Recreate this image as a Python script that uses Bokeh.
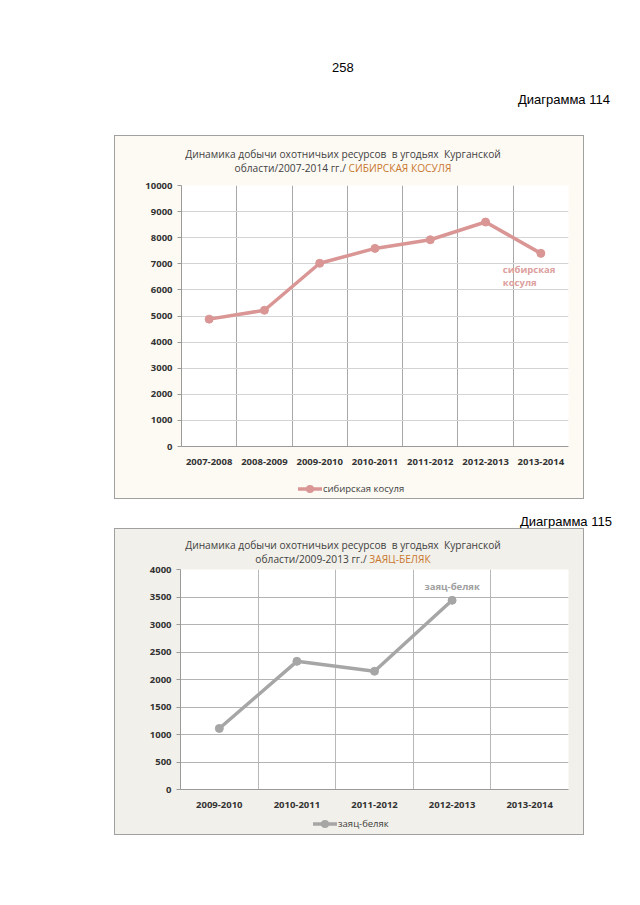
from bokeh.plotting import figure
from bokeh.models import Range1d, FixedTicker, Div, Spacer
from bokeh.layouts import column, row
from bokeh.core.properties import value
from bokeh.embed import file_html
from bokeh.resources import INLINE

# ---- data -------------------------------------------------------------
roe_seasons = ["2007-2008", "2008-2009", "2009-2010", "2010-2011",
               "2011-2012", "2012-2013", "2013-2014"]
roe_harvest = [4880, 5220, 7020, 7590, 7920, 8600, 7400]
roe_ticks = list(range(0, 10001, 1000))

hare_seasons = ["2009-2010", "2010-2011", "2011-2012", "2012-2013", "2013-2014"]
hare_harvest = [1110, 2330, 2150, 3440]
hare_ticks = list(range(0, 4001, 500))

FONT = "Open Sans"
TITLE_DARK = "#3F3F3F"
TITLE_ORANGE = "#C8782E"
CHART_W = 468


def style_chart(p, seasons, ticks, hgrid, vgrid):
    n = len(seasons)
    centers = [i + 0.5 for i in range(n)]
    p.xaxis.ticker = FixedTicker(ticks=centers)
    p.xaxis.major_label_overrides = {c: s for c, s in zip(centers, seasons)}
    p.xaxis.major_tick_line_color = None
    p.xaxis.minor_tick_line_color = None
    p.xaxis.axis_line_color = "#9A9A9A"
    p.xaxis.major_label_standoff = 6
    p.yaxis.ticker = FixedTicker(ticks=ticks)
    p.yaxis.major_tick_out = 4
    p.yaxis.major_tick_in = 0
    p.yaxis.minor_tick_line_color = None
    p.yaxis.axis_line_color = "#9A9A9A"
    p.yaxis.major_tick_line_color = "#9A9A9A"
    p.yaxis.major_label_standoff = 5
    for ax in (p.xaxis, p.yaxis):
        ax.major_label_text_font = FONT
        ax.major_label_text_font_size = "9.5px"
        ax.major_label_text_font_style = "bold"
        ax.major_label_text_color = "#333333"
    p.xgrid.ticker = FixedTicker(ticks=list(range(1, n + 1)))
    p.xgrid.grid_line_color = vgrid
    p.ygrid.ticker = FixedTicker(ticks=ticks)
    p.ygrid.grid_line_color = hgrid
    p.outline_line_color = None
    return centers


def title_div(line1, line2a, line2b, height, top1, top2, bg):
    line = ("position:absolute;left:0;width:456px;text-align:center;white-space:pre;"
            f"font-family:'{FONT}',sans-serif;font-size:10.2px;line-height:14px;color:{TITLE_DARK};")
    html = (f'<div style="position:relative;width:{CHART_W}px;height:{height}px;">'
            f'<div style="{line}top:{top1}px">{line1}</div>'
            f'<div style="{line}top:{top2}px">{line2a} '
            f'<span style="color:{TITLE_ORANGE}">{line2b}</span></div></div>')
    return Div(width=CHART_W, height=height, margin=0, text=html,
               styles={"background-color": bg})


def legend_div(label, color, height, left, center_y, bg):
    icon = (f'<svg width="24" height="12" style="display:block">'
            f'<line x1="0" y1="6" x2="24" y2="6" stroke="{color}" stroke-width="3.5"/>'
            f'<circle cx="12" cy="6" r="4" fill="{color}"/></svg>')
    html = (f'<div style="position:relative;width:{CHART_W}px;height:{height}px;">'
            f'<div style="position:absolute;left:{left}px;top:{center_y - 7}px;height:14px;'
            f'display:flex;align-items:center;white-space:nowrap;'
            f"font-family:'{FONT}',sans-serif;font-size:9.5px;color:#404040\">"
            f'{icon}<span style="margin-left:1px">{label}</span></div></div>')
    return Div(width=CHART_W, height=height, margin=0, text=html,
               styles={"background-color": bg})


# ---- chart 114: roe deer ---------------------------------------------
roe_bg = "#FDFAF4"
roe_color = "#D99694"
p1 = figure(width=CHART_W, height=291, x_range=Range1d(0, len(roe_seasons)),
            y_range=Range1d(0, 10000), output_backend="svg", toolbar_location=None,
            min_border_left=66, min_border_right=15, min_border_top=6,
            min_border_bottom=24, background_fill_color="white",
            border_fill_color=roe_bg)
x1 = style_chart(p1, roe_seasons, roe_ticks, "#D4D4D4", "#A8A8A8")
p1.line(x1, roe_harvest, line_width=3.5, color=roe_color)
p1.scatter(x1, roe_harvest, size=8, color=roe_color)
p1.text(x=[x1[-1]], y=[roe_harvest[-1]], text=["сибирская\nкосуля"],
        x_offset=-38, y_offset=10, text_align="left", text_baseline="top",
        text_font=value(FONT), text_font_size="9.5px", text_font_style="bold",
        text_color="#DCA09E", text_line_height=1.0)
chart1 = column(
    title_div("Динамика добычи охотничьих ресурсов  в угодьях  Курганской",
              "области/2007-2014 гг./", "СИБИРСКАЯ КОСУЛЯ", 43, 11, 25, roe_bg),
    p1,
    legend_div("сибирская косуля", roe_color, 28, 183, 19, roe_bg),
    styles={"outline": "1px solid #A0A0A0", "background-color": roe_bg},
)

# ---- chart 115: mountain hare ----------------------------------------
hare_bg = "#F2F0EA"
hare_color = "#A6A6A6"
p2 = figure(width=CHART_W, height=247, x_range=Range1d(0, len(hare_seasons)),
            y_range=Range1d(0, 4000), output_backend="svg", toolbar_location=None,
            min_border_left=65, min_border_right=15, min_border_top=6,
            min_border_bottom=21, background_fill_color="white",
            border_fill_color=hare_bg)
x2 = style_chart(p2, hare_seasons, hare_ticks, "#B4B4B4", "#B8B8B8")
xh = x2[:len(hare_harvest)]
p2.line(xh, hare_harvest, line_width=3.5, color=hare_color)
p2.scatter(xh, hare_harvest, size=8, color=hare_color)
p2.text(x=[xh[-1]], y=[hare_harvest[-1]], text=["заяц-беляк"],
        y_offset=-7, text_align="center", text_baseline="bottom",
        text_font=value(FONT), text_font_size="9.5px", text_font_style="bold",
        text_color="#A0A0A0")
chart2 = column(
    title_div("Динамика добычи охотничьих ресурсов  в угодьях  Курганской",
              "области/2009-2013 гг./", "ЗАЯЦ-БЕЛЯК", 34, 9, 23, hare_bg),
    p2,
    legend_div("заяц-беляк", hare_color, 24, 198, 14, hare_bg),
    styles={"outline": "1px solid #A0A0A0", "background-color": hare_bg},
)

# ---- page texts --------------------------------------------------------
PAGE_FONT = "font-family:'Liberation Sans',Arial,sans-serif;font-size:13px;line-height:15px;color:#000;"
header = Div(width=640, height=136, margin=0, text=(
    f'<div style="position:relative;width:640px;height:136px;{PAGE_FONT}">'
    '<span style="position:absolute;left:332px;top:60px">258</span>'
    '<span style="position:absolute;left:518px;top:92px;white-space:nowrap">Диаграмма 114</span>'
    '</div>'))
between = Div(width=640, height=31, margin=0, text=(
    f'<div style="position:relative;width:640px;height:31px;{PAGE_FONT}">'
    '<span style="position:absolute;left:520px;top:16px;white-space:nowrap">Диаграмма 115</span>'
    '</div>'))

page = column(
    header,
    row(Spacer(width=115, height=362), chart1),
    between,
    row(Spacer(width=115, height=305), chart2),
    Spacer(width=640, height=71),
    styles={"background-color": "white"},
)

open("out.html", "w").write(file_html(page, INLINE))
